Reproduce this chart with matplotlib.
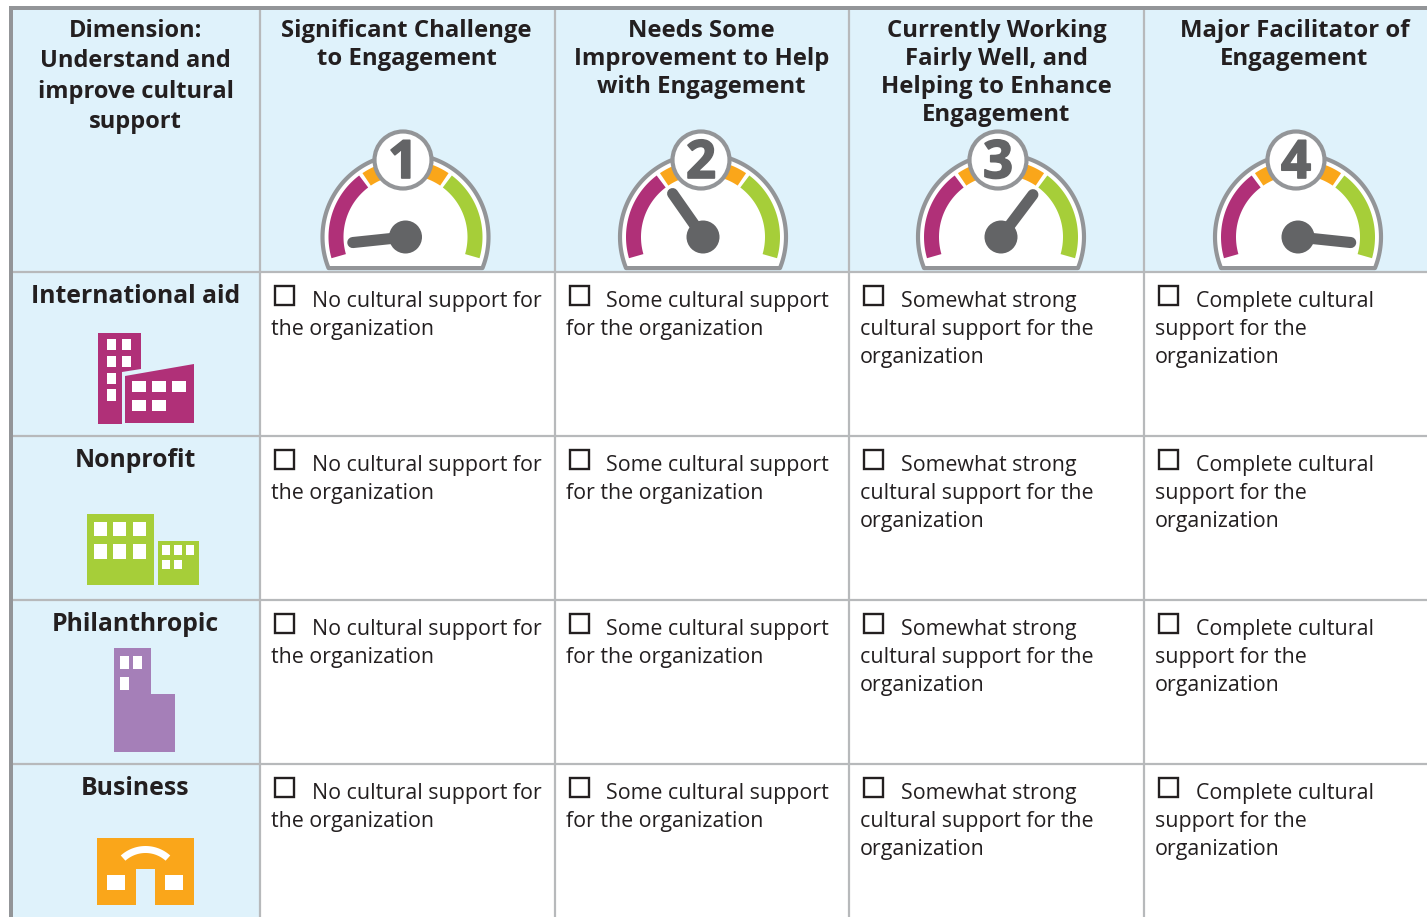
import numpy as np
import matplotlib
matplotlib.use("Agg")
import matplotlib.pyplot as plt
import matplotlib.patheffects as pe
from matplotlib.patches import Rectangle, Polygon, Circle

plt.rcParams['font.family'] = ['Open Sans', 'DejaVu Sans']

# Table content
dimension_lines = ["Dimension:", "Understand and", "improve cultural", "support"]
header_lines = [
    ["Significant Challenge", "to Engagement"],
    ["Needs Some", "Improvement to Help", "with Engagement"],
    ["Currently Working", "Fairly Well, and", "Helping to Enhance", "Engagement"],
    ["Major Facilitator of", "Engagement"],
]
row_labels = ["International aid", "Nonprofit", "Philanthropic", "Business"]
cell_lines = [
    ["No cultural support for", "the organization"],
    ["Some cultural support", "for the organization"],
    ["Somewhat strong", "cultural support for the", "organization"],
    ["Complete cultural", "support for the", "organization"],
]
gauge_numbers = ["1", "2", "3", "4"]
needle_angles = [186, 125, 53, 354]

# Layout, in image pixels
col_edges = [260, 554.5, 849, 1144]
row_edges = [272, 436, 600, 764]
col_centers = [406.5, 701.5, 996.5, 1294.5]
gauge_x = [405.5, 703, 1001, 1298]
badge_x = [403, 701, 998, 1296]
box_x = [274.5, 569.5, 863.5, 1158.5]
first_line_x = [312, 606, 901, 1196]
next_line_x = [271, 566, 860, 1155]

BLUE = '#dff2fb'
GRID = '#b7b9bb'
BAR = '#939598'
INK = '#231f20'
GAUGE_GREY = '#636466'
MAGENTA = '#b03078'
ORANGE = '#faa61a'
GREEN = '#a6ce39'
PURPLE = '#a57fb8'


def arc_points(cx, cy, r, a0, a1, n=60):
    t = np.radians(np.linspace(a0, a1, n))
    return np.column_stack([cx + r * np.cos(t), cy - r * np.sin(t)])


def ring(ax, cx, cy, r0, r1, a0, a1, color, z):
    pts = np.vstack([arc_points(cx, cy, r1, a0, a1), arc_points(cx, cy, r0, a1, a0)])
    ax.add_patch(Polygon(pts, closed=True, fc=color, ec='none', zorder=z))


def block(ax, x0, y0, x1, y1, color, z=4):
    ax.add_patch(Rectangle((x0, y0), x1 - x0, y1 - y0, fc=color, ec='none', zorder=z))


def windows(ax, xs, ys, skip=()):
    for j, (y0, y1) in enumerate(ys):
        for i, (x0, x1) in enumerate(xs):
            if (i, j) not in skip:
                block(ax, x0, y0, x1, y1, 'white', 5)


def draw_gauge(ax, i):
    cx, cy = gauge_x[i], 237
    body = arc_points(cx, cy, 83, -22, 202, 120)
    ax.add_patch(Polygon(body, closed=True, fc='white', ec=BAR, lw=3, zorder=3, joinstyle='round'))
    ring(ax, cx, cy, 62, 77, 127, 196, MAGENTA, 4)
    ring(ax, cx, cy, 62, 77, 100, 124, ORANGE, 4)
    ring(ax, cx, cy, 62, 77, 56, 80, ORANGE, 4)
    ring(ax, cx, cy, 62, 77, -16, 53, GREEN, 4)
    tip = arc_points(cx, cy, 53, needle_angles[i], needle_angles[i], 1)[0]
    ax.plot([cx, tip[0]], [cy, tip[1]], color=GAUGE_GREY, lw=8, solid_capstyle='round', zorder=5)
    ax.add_patch(Circle((cx, cy), 16.5, fc=GAUGE_GREY, ec='none', zorder=6))
    ax.add_patch(Circle((badge_x[i], 160), 28.5, fc='white', ec=BAR, lw=3, zorder=7))
    ax.text(badge_x[i], 178, gauge_numbers[i], color=GAUGE_GREY, fontsize=38, fontweight='bold',
            ha='center', va='baseline', zorder=8,
            path_effects=[pe.withStroke(linewidth=1.2, foreground=GAUGE_GREY)])


fig = plt.figure(figsize=(14.27, 9.17), dpi=100)
ax = fig.add_axes([0, 0, 1, 1])
ax.set_xlim(0, 1427)
ax.set_ylim(917, 0)
ax.axis('off')

# Backgrounds and grid
block(ax, 9, 6, 1427, 272, BLUE, 0)
block(ax, 9, 272, 260, 917, BLUE, 0)
for x in col_edges:
    ax.plot([x, x], [6, 917], color=GRID, lw=1.6, zorder=1, solid_capstyle='butt')
for y in row_edges:
    ax.plot([9, 1427], [y, y], color=GRID, lw=1.6, zorder=1, solid_capstyle='butt')
block(ax, 9, 6, 1427, 10, BAR, 2)
block(ax, 9, 6, 13, 917, BAR, 2)

# Header row
for k, line in enumerate(dimension_lines):
    ax.text(135.5, 37 + 30.3 * k, line, fontsize=17, fontweight='bold', color=INK, ha='center', va='baseline')
for i in range(4):
    for k, line in enumerate(header_lines[i]):
        ax.text(col_centers[i], 37 + 28 * k, line, fontsize=17.2, fontweight='bold', color=INK,
                ha='center', va='baseline', zorder=9)
    draw_gauge(ax, i)

# Body rows
for r, label in enumerate(row_labels):
    dy = 164 * r
    ax.text(135.5, 303 + dy, label, fontsize=17.8, fontweight='bold', color=INK, ha='center', va='baseline')
    for c in range(4):
        ax.add_patch(Rectangle((box_x[c], 286 + dy), 19.5, 19, fc='white', ec=INK, lw=1.7, zorder=3))
        for k, line in enumerate(cell_lines[c]):
            x = first_line_x[c] if k == 0 else next_line_x[c]
            ax.text(x, 306.5 + dy + 28 * k, line, fontsize=15.4, color=INK, ha='left', va='baseline')

# International aid icon
ax.add_patch(Polygon([(98, 333), (141, 333), (141, 369), (122, 372), (122, 424), (98, 424)], fc=MAGENTA, ec='none', zorder=4))
ax.add_patch(Polygon([(125, 376), (194, 364), (194, 423), (125, 423)], fc=MAGENTA, ec='none', zorder=4))
windows(ax, [(107, 116), (122, 131)], [(339, 350), (356, 367)])
windows(ax, [(107, 116)], [(373, 384), (389, 401)])
windows(ax, [(132, 146), (152, 166), (172, 186)], [(381, 392), (400, 411)], skip={(2, 1)})

# Nonprofit icon
block(ax, 87, 514, 153.5, 585, GREEN)
block(ax, 158, 541, 199, 585, GREEN)
windows(ax, [(94, 107), (113, 126), (133, 146)], [(522, 536), (544, 559)])
windows(ax, [(162, 170), (174, 182), (186, 194)], [(545, 555), (560, 569)], skip={(2, 1)})

# Philanthropic icon
ax.add_patch(Polygon([(114, 648), (151, 648), (151, 694), (175, 694), (175, 752), (114, 752)], fc=PURPLE, ec='none', zorder=4))
windows(ax, [(120, 129), (133, 142)], [(656, 669), (677, 690)], skip={(1, 1)})

# Business icon
block(ax, 97, 838, 194, 905, ORANGE)
block(ax, 136, 869, 155, 905, BLUE, 5)
windows(ax, [(107, 125), (165, 183)], [(875, 890)])
ring(ax, 145.5, 883, 30, 37, 48, 132, 'white', 5)

fig.savefig("out.png", dpi=100)
